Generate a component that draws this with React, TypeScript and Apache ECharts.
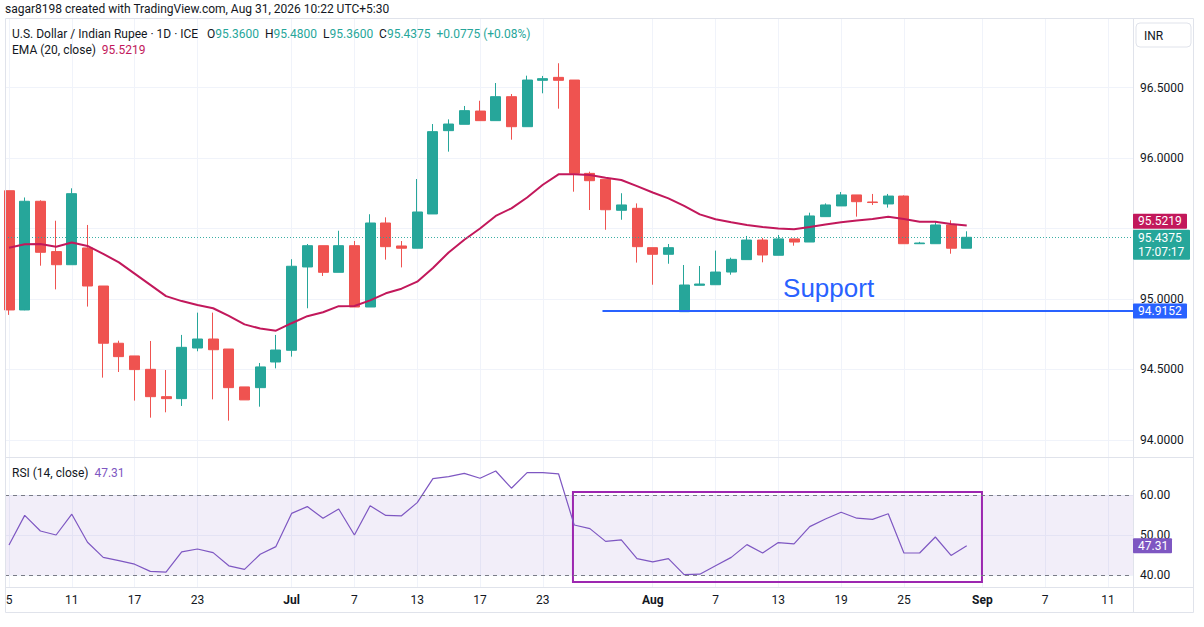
import React, { useEffect, useRef } from "react";
import * as echarts from "echarts";

// ---------- data ----------
const tradingDays = [
  "2026-06-05", "2026-06-08", "2026-06-09", "2026-06-10", "2026-06-11", "2026-06-12", "2026-06-15", "2026-06-16",
  "2026-06-17", "2026-06-18", "2026-06-19", "2026-06-22", "2026-06-23", "2026-06-24", "2026-06-25", "2026-06-26",
  "2026-06-29", "2026-06-30", "2026-07-01", "2026-07-02", "2026-07-03", "2026-07-06", "2026-07-07", "2026-07-08",
  "2026-07-09", "2026-07-10", "2026-07-13", "2026-07-14", "2026-07-15", "2026-07-16", "2026-07-17", "2026-07-20",
  "2026-07-21", "2026-07-22", "2026-07-23", "2026-07-24", "2026-07-27", "2026-07-28", "2026-07-29", "2026-07-30",
  "2026-07-31", "2026-08-03", "2026-08-04", "2026-08-05", "2026-08-06", "2026-08-07", "2026-08-10", "2026-08-11",
  "2026-08-12", "2026-08-13", "2026-08-14", "2026-08-17", "2026-08-18", "2026-08-19", "2026-08-20", "2026-08-21",
  "2026-08-24", "2026-08-25", "2026-08-26", "2026-08-27", "2026-08-28", "2026-08-31",
];

const opens = [
  95.768, 94.922, 95.693, 95.336, 95.243, 95.362, 95.092, 94.686, 94.596, 94.501,
  94.307, 94.293, 94.652, 94.716, 94.645, 94.376, 94.371, 94.553, 94.636, 95.227,
  95.378, 95.189, 95.378, 94.943, 95.539, 95.376, 95.360, 95.603, 96.194, 96.239,
  96.333, 96.265, 96.435, 96.222, 96.551, 96.572, 96.553, 95.891, 95.849, 95.629,
  95.643, 95.364, 95.317, 94.910, 95.097, 95.101, 95.191, 95.279, 95.418, 95.310,
  95.426, 95.404, 95.584, 95.660, 95.738, 95.688, 95.674, 95.730, 95.392, 95.392,
  95.525, 95.360,
];
const closes = [
  94.922, 95.693, 95.331, 95.243, 95.747, 95.092, 94.686, 94.591, 94.499, 94.307,
  94.293, 94.657, 94.716, 94.640, 94.371, 94.284, 94.518, 94.638, 95.232, 95.378,
  95.189, 95.378, 94.943, 95.539, 95.371, 95.360, 95.617, 96.187, 96.241, 96.336,
  96.265, 96.435, 96.222, 96.553, 96.563, 96.551, 95.891, 95.839, 95.633, 95.667,
  95.371, 95.317, 95.364, 95.099, 95.106, 95.191, 95.281, 95.418, 95.312, 95.426,
  95.404, 95.589, 95.667, 95.738, 95.690, 95.684, 95.730, 95.392, 95.397, 95.525,
  95.360, 95.4375,
];
const lows = [
  94.887, 94.920, 95.236, 95.068, 95.243, 94.946, 94.442, 94.482, 94.279, 94.158,
  94.196, 94.241, 94.629, 94.288, 94.137, 94.284, 94.236, 94.508, 94.591, 94.934,
  95.163, 95.189, 94.943, 94.943, 95.279, 95.224, 95.360, 95.603, 96.045, 96.239,
  96.265, 96.265, 96.130, 96.222, 96.459, 96.350, 95.761, 95.631, 95.491, 95.562,
  95.258, 95.101, 95.250, 94.910, 95.097, 95.101, 95.172, 95.279, 95.260, 95.310,
  95.378, 95.404, 95.584, 95.660, 95.584, 95.667, 95.648, 95.392, 95.390, 95.392,
  95.321, 95.360,
];
const highs = [
  95.768, 95.720, 95.700, 95.555, 95.785, 95.525, 95.092, 94.704, 94.596, 94.702,
  94.496, 94.745, 94.903, 94.903, 94.645, 94.376, 94.546, 94.745, 95.282, 95.390,
  95.378, 95.484, 95.411, 95.601, 95.579, 95.411, 95.851, 96.241, 96.274, 96.369,
  96.406, 96.532, 96.454, 96.584, 96.582, 96.672, 96.553, 95.903, 95.849, 95.750,
  95.678, 95.364, 95.390, 95.241, 95.234, 95.343, 95.293, 95.447, 95.433, 95.454,
  95.426, 95.612, 95.678, 95.759, 95.738, 95.745, 95.745, 95.735, 95.405, 95.548,
  95.558, 95.480,
];
const ema20 = [
  95.364, 95.388, 95.390, 95.371, 95.400, 95.376, 95.320, 95.260, 95.180, 95.100,
  95.020, 94.985, 94.957, 94.934, 94.880, 94.820, 94.790, 94.775, 94.828, 94.878,
  94.906, 94.949, 94.950, 94.990, 95.040, 95.073, 95.123, 95.220, 95.330, 95.420,
  95.500, 95.589, 95.643, 95.720, 95.810, 95.884, 95.884, 95.880, 95.860, 95.844,
  95.800, 95.755, 95.714, 95.660, 95.600, 95.565, 95.544, 95.525, 95.510, 95.500,
  95.494, 95.510, 95.528, 95.544, 95.556, 95.567, 95.584, 95.567, 95.548, 95.548,
  95.532, 95.5219,
];
const rsi14 = [
  47.5, 54.9, 51.0, 50.0, 55.2, 48.2, 44.4, 43.6, 42.7, 40.9,
  40.7, 45.8, 46.5, 45.6, 42.3, 41.4, 45.2, 47.1, 55.4, 57.1,
  54.2, 56.5, 50.0, 57.3, 54.9, 54.8, 58.1, 64.1, 64.6, 65.4,
  64.2, 66.0, 61.7, 65.6, 65.6, 65.3, 52.5, 51.6, 48.4, 48.8,
  44.1, 43.3, 44.1, 40.1, 40.2, 42.3, 44.4, 47.6, 45.5, 48.1,
  47.8, 52.1, 54.0, 55.7, 54.2, 53.9, 55.3, 45.5, 45.5, 49.5,
  44.9, 47.31,
];

const xTickIndex = [0, 4, 8, 12, 18, 22, 26, 30, 34, 41, 45, 49, 53, 57, 62, 66, 70];
const xTickLabels = ["5", "11", "17", "23", "Jul", "7", "13", "17", "23", "Aug", "7", "13", "19", "25", "Sep", "7", "11"];
const priceGridTicks = [94, 94.5, 95, 95.5, 96, 96.5];
const priceLabelTicks = [94, 94.5, 95, 96, 96.5]; // 95.5000 sits under the price tags
const rsiTicks = [40, 50, 60];
const rsiBandLevels = [40, 60];

const supportLevel = 94.9152;
const supportStartIndex = 37.8;
const supportLabelAt = [52.2, 95.08];
const rsiBoxCorners = [[35.92, 60.75], [61.97, 38.25]];
const lastEma = 95.5219;
const countdown = "17:07:17";

// visible windows (axis extents)
const xMin = -0.255;
const xMax = 71.59;
const priceMin = 93.879;
const priceMax = 96.986;
const rsiMin = 37;
const rsiMax = 69.25;

// ---------- style ----------
const FONT = "Roboto, 'Liberation Sans', Arial, sans-serif";
const UP = "#26a69a";
const DOWN = "#ef5350";
const EMA_C = "#c2185b";
const RSI_C = "#7e57c2";
const BLUE = "#2962ff";
const TXT = "#131722";
const BORDER = "#e0e3eb";
const GRIDC = "#f0f3fa";

export default function App() {
  const ref = useRef<HTMLDivElement>(null);

  useEffect(() => {
    const el = ref.current;
    if (!el) return;
    const chart = echarts.init(el, null, { renderer: "svg" });

    const n = tradingDays.length;
    const last = n - 1;
    const lastClose = closes[last];
    const change = lastClose - closes[last - 1];
    const pct = (change / closes[last - 1]) * 100;

    const xLabelFormatter = (v: number) => {
      const k = xTickIndex.indexOf(Math.round(v));
      const s = k >= 0 ? xTickLabels[k] : "";
      return /^[A-Z]/.test(s) ? `{b|${s}}` : s;
    };

    const baseX = (gridIndex: number, showLabels: boolean) => ({
      type: "value",
      gridIndex,
      min: xMin,
      max: xMax,
      axisLine: { show: false },
      axisTick: { show: false, customValues: xTickIndex },
      axisLabel: {
        show: showLabels,
        customValues: xTickIndex,
        formatter: xLabelFormatter,
        margin: 7,
        fontSize: 12,
        fontFamily: FONT,
        color: TXT,
        rich: { b: { fontWeight: "bold", fontSize: 12, fontFamily: FONT, color: TXT } },
      },
      splitLine: { show: true, lineStyle: { color: GRIDC, width: 1 } },
    });

    const option: any = {
      animation: false,
      backgroundColor: "#ffffff",
      grid: [
        { left: 5, top: 19, width: 1128, height: 438, show: false },
        { left: 5, top: 458, width: 1128, height: 129, show: false },
      ],
      xAxis: [baseX(0, false), baseX(1, true)],
      yAxis: [
        {
          type: "value",
          gridIndex: 0,
          position: "right",
          min: priceMin,
          max: priceMax,
          axisLine: { show: false },
          axisTick: { show: false, customValues: priceGridTicks },
          axisLabel: {
            customValues: priceLabelTicks,
            formatter: (v: number) => v.toFixed(4),
            margin: 7,
            fontSize: 12,
            fontFamily: FONT,
            color: TXT,
          },
          splitLine: { show: true, lineStyle: { color: GRIDC, width: 1 } },
        },
        {
          type: "value",
          gridIndex: 1,
          position: "right",
          min: rsiMin,
          max: rsiMax,
          axisLine: { show: false },
          axisTick: { show: false, customValues: rsiTicks },
          axisLabel: {
            customValues: rsiTicks,
            formatter: (v: number) => v.toFixed(2),
            margin: 7,
            fontSize: 12,
            fontFamily: FONT,
            color: TXT,
          },
          splitLine: { show: true, lineStyle: { color: GRIDC, width: 1 } },
        },
      ],
      series: [
        {
          type: "candlestick",
          xAxisIndex: 0,
          yAxisIndex: 0,
          data: tradingDays.map((_, i) => [i, opens[i], closes[i], lows[i], highs[i]]),
          encode: { x: 0, y: [1, 2, 3, 4] },
          barWidth: 10.5,
          clip: true,
          itemStyle: {
            color: UP,
            color0: DOWN,
            borderColor: UP,
            borderColor0: DOWN,
            borderWidth: 1,
          },
          markLine: {
            silent: true,
            symbol: ["none", "none"],
            animation: false,
            label: { show: false },
            data: [
              {
                yAxis: lastClose,
                lineStyle: { color: UP, type: [1, 2], width: 1, opacity: 0.9 },
              },
              [
                { coord: [supportStartIndex, supportLevel], lineStyle: { color: BLUE, width: 2, type: "solid" } },
                { coord: [xMax, supportLevel] },
              ],
            ],
          },
          z: 2,
        },
        {
          type: "line",
          xAxisIndex: 0,
          yAxisIndex: 0,
          data: ema20.map((v, i) => [i, v]),
          symbol: "none",
          lineStyle: { color: EMA_C, width: 2 },
          itemStyle: { color: EMA_C },
          z: 3,
        },
        {
          type: "line",
          xAxisIndex: 1,
          yAxisIndex: 1,
          data: rsi14.map((v, i) => [i, v]),
          symbol: "none",
          lineStyle: { color: RSI_C, width: 1.2 },
          itemStyle: { color: RSI_C },
          z: 3,
          markLine: {
            silent: true,
            symbol: ["none", "none"],
            label: { show: false },
            lineStyle: { color: "#787b86", type: [4, 4], width: 1 },
            data: rsiBandLevels.map((v) => ({ yAxis: v })),
          },
          markArea: {
            silent: true,
            data: [
              [
                { yAxis: rsiBandLevels[0], itemStyle: { color: "rgba(126,87,194,0.1)" } },
                { yAxis: rsiBandLevels[1] },
              ],
              [
                {
                  coord: rsiBoxCorners[0],
                  itemStyle: { color: "rgba(0,0,0,0)", borderColor: "#9c27b0", borderWidth: 2 },
                },
                { coord: rsiBoxCorners[1] },
              ],
            ],
          },
        },
      ],
    };

    chart.setOption(option);

    const py = (v: number) => chart.convertToPixel({ yAxisIndex: 0 }, v) as number;
    const ry = (v: number) => chart.convertToPixel({ yAxisIndex: 1 }, v) as number;
    const px = (v: number) => chart.convertToPixel({ xAxisIndex: 0 }, v) as number;
    const paneRight = px(xMax);

    const tagText = (x: number, y: number, text: string) => ({
      type: "text",
      x,
      y,
      z: 100,
      style: { text, fill: "#ffffff", fontSize: 12, fontFamily: FONT, verticalAlign: "middle", align: "left" },
    });

    const tealTop = py(lastClose) - 7.5;
    let emaTop = py(lastEma) - 7.5;
    if (emaTop + 15 > tealTop - 1) emaTop = tealTop - 16;
    const blueTop = py(supportLevel) - 7.5;
    const rsiTop = ry(rsi14[last]) - 7.5;

    const valueRich = (color: string) => ({ fill: color, fontSize: 12, fontFamily: FONT });
    const labelRich = { fill: TXT, fontSize: 12, fontFamily: FONT };

    const graphic: any[] = [
      // outer frame and separators
      { type: "rect", shape: { x: 5.5, y: 18.5, width: 1188, height: 594 }, style: { fill: "none", stroke: BORDER, lineWidth: 1 }, z: 50, silent: true },
      { type: "line", shape: { x1: paneRight + 0.5, y1: 18.5, x2: paneRight + 0.5, y2: 612.5 }, style: { stroke: BORDER, lineWidth: 1 }, z: 50, silent: true },
      { type: "line", shape: { x1: 5, y1: 457.5, x2: 1194, y2: 457.5 }, style: { stroke: BORDER, lineWidth: 1 }, z: 50, silent: true },
      { type: "line", shape: { x1: 5, y1: 587.5, x2: 1194, y2: 587.5 }, style: { stroke: BORDER, lineWidth: 1 }, z: 50, silent: true },
      // top caption
      {
        type: "text", x: 5, y: 9, z: 60,
        style: { text: "sagar8198 created with TradingView.com, Aug 31, 2026 10:22 UTC+5:30", fill: TXT, fontSize: 12, fontFamily: FONT, verticalAlign: "middle" },
      },
      // legend line 1
      {
        type: "text", x: 12, y: 34, z: 60,
        style: {
          text:
            "{a|U.S. Dollar / Indian Rupee · 1D · ICE}   {a|O}{v|" + opens[last].toFixed(4) + "}  {a|H}{v|" + highs[last].toFixed(4) +
            "}  {a|L}{v|" + lows[last].toFixed(4) + "}  {a|C}{v|" + lastClose.toFixed(4) + "}  {v|" +
            (change >= 0 ? "+" : "") + change.toFixed(4) + " (" + (pct >= 0 ? "+" : "") + pct.toFixed(2) + "%)}",
          rich: { a: labelRich, v: valueRich(UP) },
          fontSize: 12, fontFamily: FONT, verticalAlign: "middle",
        },
      },
      {
        type: "text", x: 12, y: 50, z: 60,
        style: {
          text: "{a|EMA (20, close)}  {v|" + ema20[last].toFixed(4) + "}",
          rich: { a: labelRich, v: valueRich(EMA_C) },
          fontSize: 12, fontFamily: FONT, verticalAlign: "middle",
        },
      },
      {
        type: "text", x: 12, y: 473, z: 60,
        style: {
          text: "{a|RSI (14, close)}  {v|" + rsi14[last].toFixed(2) + "}",
          rich: { a: labelRich, v: valueRich(RSI_C) },
          fontSize: 12, fontFamily: FONT, verticalAlign: "middle",
        },
      },
      // currency button
      { type: "rect", shape: { x: 1136, y: 23, width: 55, height: 24, r: 4 }, style: { fill: "#ffffff", stroke: BORDER, lineWidth: 1 }, z: 60 },
      { type: "text", x: 1144, y: 35.5, z: 61, style: { text: "INR", fill: TXT, fontSize: 12, fontFamily: FONT, verticalAlign: "middle" } },
      // support annotation
      {
        type: "text", x: px(supportLabelAt[0]), y: py(supportLabelAt[1]), z: 60,
        style: { text: "Support", fill: BLUE, fontSize: 26, fontFamily: "'Liberation Sans', Arial, sans-serif", align: "center", verticalAlign: "middle" },
      },
      // price tags
      { type: "rect", shape: { x: paneRight, y: emaTop, width: 54, height: 15, r: 1 }, style: { fill: EMA_C }, z: 99 },
      tagText(paneRight + 5, emaTop + 7.5, lastEma.toFixed(4)),
      { type: "rect", shape: { x: paneRight, y: tealTop, width: 57, height: 30, r: 1 }, style: { fill: UP }, z: 99 },
      tagText(paneRight + 5, tealTop + 8, lastClose.toFixed(4)),
      tagText(paneRight + 5, tealTop + 22, countdown),
      { type: "rect", shape: { x: paneRight, y: blueTop, width: 54, height: 15, r: 1 }, style: { fill: BLUE }, z: 99 },
      tagText(paneRight + 5, blueTop + 7.5, supportLevel.toFixed(4)),
      { type: "rect", shape: { x: paneRight, y: rsiTop, width: 39, height: 15, r: 1 }, style: { fill: RSI_C }, z: 99 },
      tagText(paneRight + 5, rsiTop + 7.5, rsi14[last].toFixed(2)),
    ];

    chart.setOption({ graphic });

    return () => chart.dispose();
  }, []);

  return (
    <div
      ref={ref}
      style={{ position: "fixed", left: 0, top: 0, width: 1204, height: 627, background: "#ffffff" }}
    />
  );
}
